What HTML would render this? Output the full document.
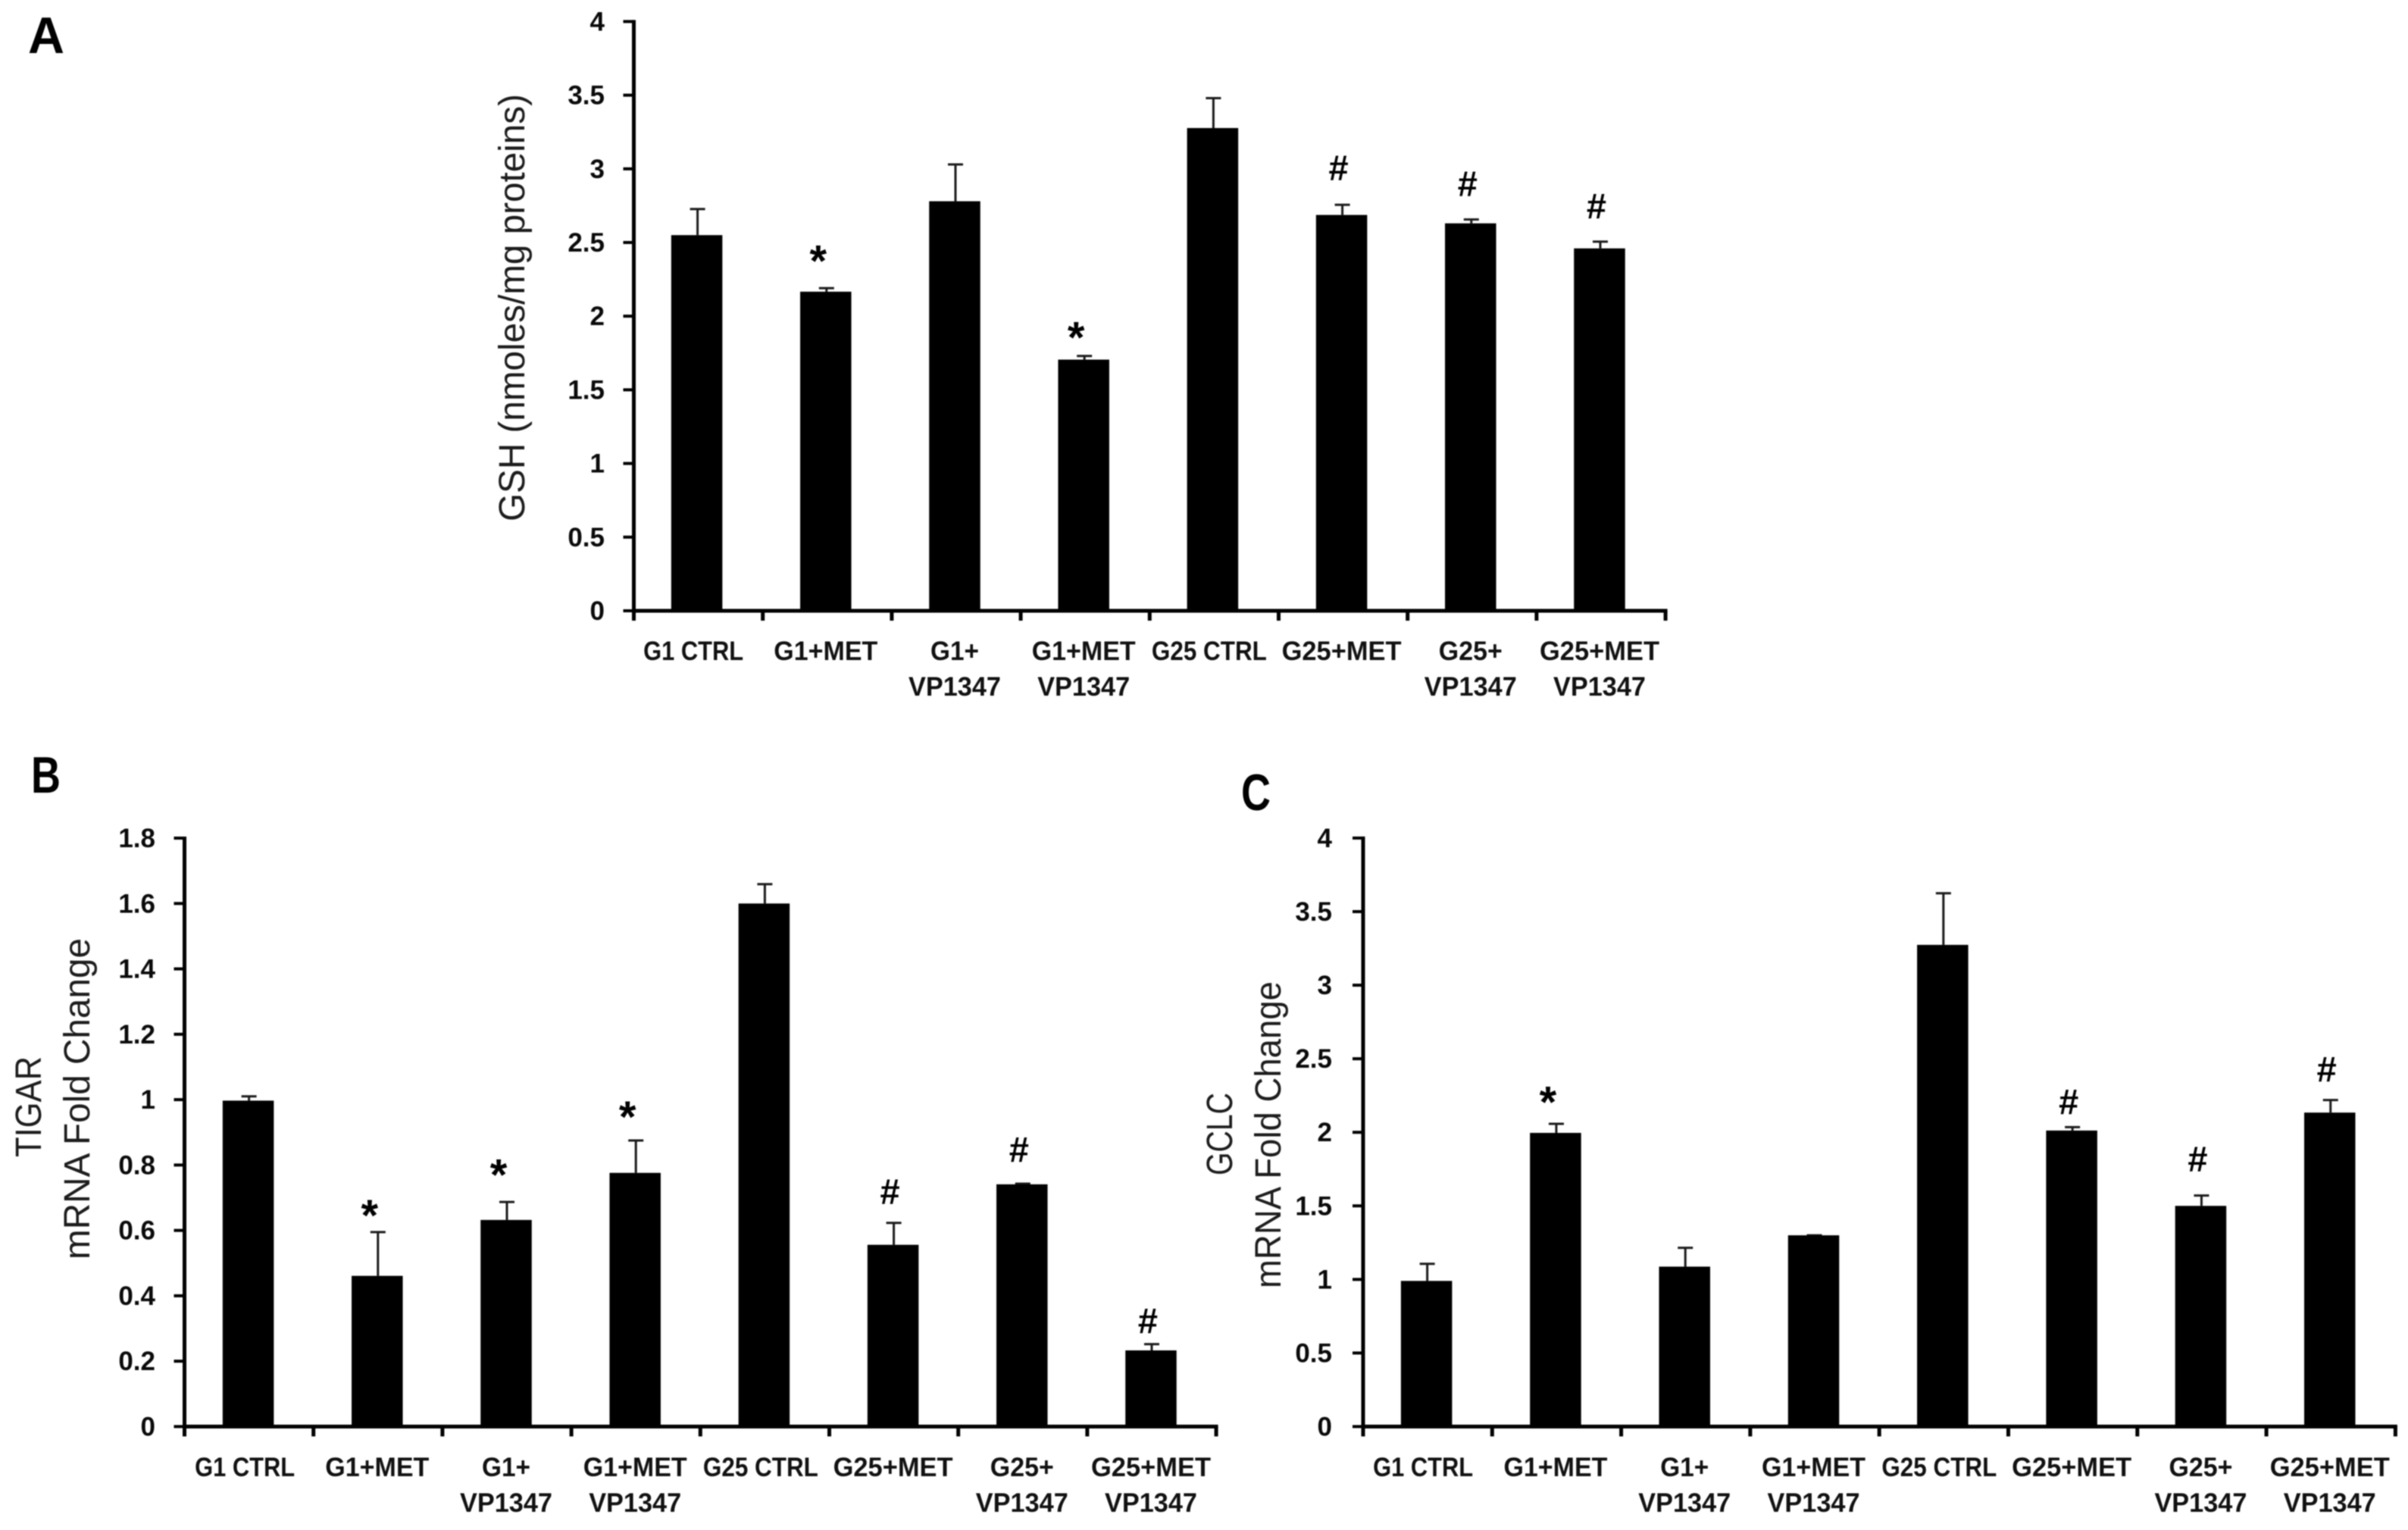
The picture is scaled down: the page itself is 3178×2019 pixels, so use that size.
<!DOCTYPE html>
<html lang="en">
<head>
<meta charset="utf-8">
<title>GSH, TIGAR and GCLC bar charts</title>
<style>
html,body{margin:0;padding:0;background:#fff;width:3178px;height:2019px;overflow:hidden}
svg{display:block;font-family:"Liberation Sans",sans-serif;filter:blur(0.8px)}
.panel-letter{font-size:68px;font-weight:700;fill:#000}
.y-title{font-size:48px;font-weight:400;fill:#1c1c1c}
.tick-label{font-size:35px;font-weight:700;fill:#0a0a0a;text-anchor:end}
.cat-label{font-size:35px;font-weight:700;fill:#111;text-anchor:middle}
.mark-star{font-size:58px;font-weight:700;fill:#000;text-anchor:middle}
.mark-hash{font-size:47px;font-weight:700;fill:#000;text-anchor:middle}
</style>
</head>
<body>
<svg id="figure" xmlns="http://www.w3.org/2000/svg" width="3178" height="2019" viewBox="0 0 3178 2019">
  <rect x="0" y="0" width="3178" height="2019" fill="#fff"/>

  <text class="panel-letter" x="37" y="70" textLength="48" lengthAdjust="spacingAndGlyphs">A</text>
  <text class="panel-letter" x="41" y="1046" textLength="39" lengthAdjust="spacingAndGlyphs">B</text>
  <text class="panel-letter" x="1638" y="1069" textLength="39" lengthAdjust="spacingAndGlyphs">C</text>

  <text class="y-title" transform="translate(692,688) rotate(-90)" textLength="564" lengthAdjust="spacingAndGlyphs">GSH (nmoles/mg proteins)</text>

  <text class="y-title" transform="translate(54,1527) rotate(-90)" textLength="133" lengthAdjust="spacingAndGlyphs">TIGAR</text>
  <text class="y-title" transform="translate(118,1662) rotate(-90)" textLength="424" lengthAdjust="spacingAndGlyphs">mRNA Fold Change</text>

  <text class="y-title" transform="translate(1626,1551) rotate(-90)" textLength="109" lengthAdjust="spacingAndGlyphs">GCLC</text>
  <text class="y-title" transform="translate(1690,1700) rotate(-90)" textLength="405" lengthAdjust="spacingAndGlyphs">mRNA Fold Change</text>
</svg>

<script>
// ---- chart data ----
const categories = ["G1 CTRL", "G1+MET", "G1+\nVP1347", "G1+MET\nVP1347", "G25 CTRL", "G25+MET", "G25+\nVP1347", "G25+MET\nVP1347"];

const panelATicks = ["0", "0.5", "1", "1.5", "2", "2.5", "3", "3.5", "4"];
const panelAValues = [2.55, 2.166, 2.78, 1.705, 3.277, 2.687, 2.63, 2.46];
const panelAErrorTops = [2.727, 2.19, 3.03, 1.73, 3.48, 2.756, 2.656, 2.506];
const panelAMarks = ["", "*", "", "*", "", "#", "#", "#"];
const panelAMarkLevels = [0, 2.42, 0, 1.90, 0, 3.01, 2.90, 2.75];

const panelBTicks = ["0", "0.2", "0.4", "0.6", "0.8", "1", "1.2", "1.4", "1.6", "1.8"];
const panelBValues = [0.997, 0.461, 0.632, 0.776, 1.6, 0.556, 0.741, 0.233];
const panelBErrorTops = [1.01, 0.595, 0.687, 0.875, 1.659, 0.623, 0.743, 0.252];
const panelBMarks = ["", "*", "*", "*", "", "#", "#", "#"];
const panelBMarkLevels = [0, 0.667, 0.79, 0.968, 0, 0.720, 0.848, 0.325];

const panelCTicks = ["0", "0.5", "1", "1.5", "2", "2.5", "3", "3.5", "4"];
const panelCValues = [0.99, 1.996, 1.087, 1.3, 3.274, 2.012, 1.5, 2.134];
const panelCErrorTops = [1.106, 2.058, 1.215, 1.3, 3.625, 2.035, 1.57, 2.219];
const panelCMarks = ["", "*", "", "", "", "#", "#", "#"];
const panelCMarkLevels = [0, 2.25, 0, 0, 0, 2.21, 1.82, 2.43];

// ---- label widths: the original face is narrower than Liberation Sans ----
const labelWidth = {"G1 CTRL": 132, "G1+MET": 137, "G1+": 64, "VP1347": 122, "G25 CTRL": 152, "G25+MET": 158, "G25+": 84};

const SVG_NS = "http://www.w3.org/2000/svg";
const figure = document.getElementById("figure");

function make(tag, attrs, parent) {
  const el = document.createElementNS(SVG_NS, tag);
  for (const k in attrs) el.setAttribute(k, attrs[k]);
  parent.appendChild(el);
  return el;
}

function drawPanel(id, ticks, values, errorTops, marks, markLevels, frame) {
  const yOf = v => frame.y0 - v * frame.unit;
  const slot = frame.slot;
  const xOf = i => frame.axisX + (i + 0.5) * slot + frame.barShift;
  const maxTick = Number(ticks[ticks.length - 1]);

  const group = make("g", {}, figure);
  
  

  // error bars sit behind the bars
  values.forEach((v, i) => {
    const top = yOf(errorTops[i]);
    const stem = make("line", {x1: xOf(i) + 1, x2: xOf(i) + 1, y1: yOf(v), y2: top, stroke: "#1a1a1a", "stroke-width": 3}, group);
    
    
    const cap = make("line", {x1: xOf(i) - 9, x2: xOf(i) + 11, y1: top, y2: top, stroke: "#1a1a1a", "stroke-width": 3}, group);
    
    
  });

  values.forEach((v, i) => {
    const bar = make("rect", {x: xOf(i) - 33.75, y: yOf(v), width: 67.5, height: frame.y0 - yOf(v), fill: "#000"}, group);
    
    
  });

  const yAxis = make("rect", {x: frame.axisX - 2.5, y: yOf(maxTick) - 2, width: 5, height: frame.y0 - yOf(maxTick) + 4, fill: "#000"}, group);
  
  

  const xAxis = make("rect", {x: frame.axisX - 2.5, y: frame.y0 - 2.5, width: categories.length * slot + 5, height: 5, fill: "#000"}, group);
  
  

  ticks.forEach(t => {
    const y = yOf(Number(t));
    const tick = make("rect", {x: frame.axisX - 14, y: y - 2, width: 14, height: 4, fill: "#000"}, group);
    
    
    const label = make("text", {class: "tick-label", x: frame.labelRight, y: y + 12}, group);
    
    
    label.textContent = t;
  });

  for (let i = 0; i <= categories.length; i++) {
    const tick = make("rect", {x: frame.axisX + i * slot - 2.5, y: frame.y0, width: 5, height: 13, fill: "#000"}, group);
    
    
  }

  categories.forEach((c, i) => {
    c.split("\n").forEach((line, n) => {
      const shift = line.endsWith("CTRL") ? -4.5 : 0;
      const label = make("text", {class: "cat-label", x: xOf(i) + shift, y: frame.catY + n * 47, textLength: labelWidth[line], lengthAdjust: "spacingAndGlyphs"}, group);
      
      
      label.textContent = line;
    });
  });

  marks.forEach((m, i) => {
    if (!m) return;
    const cy = yOf(markLevels[i]);
    const isStar = m === "*";
    const mark = make("text", {class: isStar ? "mark-star" : "mark-hash", x: xOf(i) + (isStar ? -10 : -4), y: cy + (isStar ? 29 : 17)}, group);
    
    
    mark.textContent = m;
  });
}

drawPanel("panel-a", panelATicks, panelAValues, panelAErrorTops, panelAMarks, panelAMarkLevels,
  {axisX: 836.5, y0: 806, unit: 194.4, slot: 170.2, barShift: -2, labelRight: 798, catY: 871});
drawPanel("panel-b", panelBTicks, panelBValues, panelBErrorTops, panelBMarks, panelBMarkLevels,
  {axisX: 243.5, y0: 1882.5, unit: 431.4, slot: 170.2, barShift: -1, labelRight: 205, catY: 1948});
drawPanel("panel-c", panelCTicks, panelCValues, panelCErrorTops, panelCMarks, panelCMarkLevels,
  {axisX: 1799, y0: 1882.5, unit: 194.15, slot: 170.3, barShift: -1.5, labelRight: 1758, catY: 1948});
</script>
</body>
</html>
